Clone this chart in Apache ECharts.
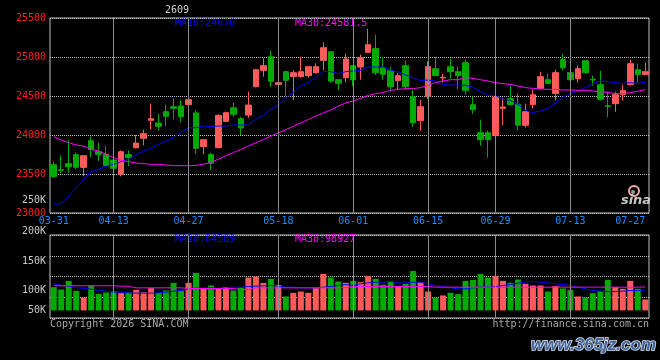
<!DOCTYPE html>
<html>
<head>
<meta charset="utf-8">
<title>2609 日K</title>
<script src="https://cdn.jsdelivr.net/npm/echarts@6/dist/echarts.min.js"></script>
<style>
  html, body { margin: 0; padding: 0; background: #000; }
  #main { width: 660px; height: 360px; }
</style>
</head>
<body>
<div id="main"></div>
<script>
// 交易日
const dates = [
  '03-31', '04-01', '04-02', '04-03', '04-07', '04-08', '04-09', '04-10', '04-13', '04-14',
  '04-15', '04-16', '04-17', '04-20', '04-21', '04-22', '04-23', '04-24', '04-27', '04-28',
  '04-29', '04-30', '05-06', '05-07', '05-08', '05-11', '05-12', '05-13', '05-14', '05-15',
  '05-18', '05-19', '05-20', '05-21', '05-22', '05-25', '05-26', '05-27', '05-28', '05-29',
  '06-01', '06-02', '06-03', '06-04', '06-05', '06-08', '06-09', '06-10', '06-11', '06-12',
  '06-15', '06-16', '06-17', '06-18', '06-22', '06-23', '06-24', '06-25', '06-26', '06-29',
  '06-30', '07-01', '07-02', '07-03', '07-06', '07-07', '07-08', '07-09', '07-10', '07-13',
  '07-14', '07-15', '07-16', '07-17', '07-20', '07-21', '07-22', '07-23', '07-24', '07-27'
]
// 显示的日期刻度
const tickDates = ['03-31', '04-13', '04-27', '05-18', '06-01', '06-15', '06-29', '07-13', '07-27']

const openP = [
  23620, 23555, 23633, 23748, 23585, 23927, 23786, 23752, 23679, 23496,
  23748, 23838, 23957, 24188, 24154, 24299, 24363, 24372, 24389, 24282,
  23850, 23752, 23838, 24175, 24350, 24209, 24256, 24619, 24829, 25004,
  24649, 24812, 24748, 24748, 24761, 24799, 24957, 25068, 24709, 24735,
  24889, 24872, 25060, 25107, 24863, 24825, 24696, 24889, 24491, 24184,
  24496, 24850, 24731, 24876, 24812, 24927, 24389, 24030, 24030, 23991,
  24342, 24466, 24393, 24124, 24389, 24598, 24709, 24534, 24966, 24799,
  24722, 24953, 24713, 24645, 24376, 24402, 24517, 24645, 24837, 24773
]
const closeP = [
  23466, 23548, 23594, 23585, 23735, 23812, 23752, 23611, 23573, 23786,
  23709, 23897, 24017, 24209, 24111, 24239, 24342, 24235, 24453, 23829,
  23940, 23637, 24252, 24286, 24265, 24090, 24384, 24837, 24889, 24688,
  24671, 24701, 24799, 24812, 24876, 24876, 25119, 24692, 24662, 24974,
  24709, 24991, 25158, 24799, 24778, 24619, 24761, 24619, 24158, 24363,
  24876, 24761, 24739, 24812, 24761, 24572, 24325, 23940, 23940, 24483,
  24359, 24389, 24124, 24299, 24517, 24748, 24662, 24799, 24863, 24709,
  24850, 24799, 24705, 24457, 24367, 24517, 24568, 24914, 24773, 24812
]
const lowP = [
  23453, 23508, 23517, 23560, 23470, 23718, 23667, 23603, 23419, 23470,
  23603, 23829, 23867, 24073, 24060, 24111, 24201, 24162, 24316, 23752,
  23752, 23547, 23829, 24167, 24231, 24000, 24222, 24611, 24748, 24619,
  24414, 24500, 24449, 24735, 24735, 24786, 24829, 24671, 24577, 24675,
  24628, 24709, 25060, 24769, 24709, 24555, 24585, 24581, 24107, 24060,
  24461, 24761, 24671, 24722, 24581, 24517, 24273, 23863, 23709, 23932,
  24124, 24376, 24060, 24094, 24342, 24590, 24649, 24444, 24825, 24679,
  24671, 24786, 24632, 24440, 24226, 24299, 24440, 24632, 24671, 24773
]
const highP = [
  23658, 23739, 23936, 23773, 23735, 23979, 23902, 23863, 23709, 23803,
  23803, 24000, 24068, 24402, 24269, 24389, 24466, 24444, 24513, 24320,
  23949, 23773, 24265, 24299, 24414, 24231, 24555, 24846, 24983, 25081,
  24778, 24812, 24829, 24995, 24876, 24919, 25188, 25068, 24709, 25042,
  24889, 25030, 25363, 25286, 25000, 24876, 24799, 24953, 24581, 24453,
  24940, 25000, 24786, 24978, 24876, 24966, 24491, 24196, 24060, 24483,
  24478, 24637, 24538, 24402, 24581, 24812, 24786, 24837, 25042, 24953,
  24889, 24953, 24760, 24825, 24555, 24555, 24645, 24966, 24914, 24927
]
const ma10 = [
  23111, 23120, 23218, 23325, 23432, 23530, 23560, 23598, 23624, 23658,
  23692, 23744, 23795, 23829, 23880, 23923, 23966, 24030, 24094, 24094,
  24115, 24107, 24115, 24115, 24128, 24128, 24128, 24201, 24256, 24329,
  24384, 24478, 24543, 24628, 24671, 24735, 24812, 24812, 24786, 24812,
  24820, 24829, 24872, 24872, 24872, 24829, 24812, 24769, 24735, 24696,
  24705, 24692, 24649, 24641, 24641, 24637, 24607, 24555, 24508, 24508,
  24457, 24444, 24393, 24316, 24286, 24308, 24342, 24402, 24487, 24530,
  24564, 24607, 24658, 24692, 24684, 24671, 24662, 24671, 24662, 24676
]
const ma30 = [
  23979, 23936, 23902, 23872, 23859, 23816, 23795, 23752, 23709, 23675,
  23658, 23641, 23632, 23624, 23624, 23615, 23607, 23607, 23607, 23610,
  23624, 23650, 23690, 23735, 23775, 23815, 23860, 23900, 23942, 23985,
  24028, 24068, 24113, 24155, 24198, 24241, 24283, 24320, 24370, 24411,
  24436, 24470, 24508, 24530, 24547, 24572, 24585, 24594, 24594, 24607,
  24637, 24671, 24692, 24709, 24709, 24735, 24726, 24709, 24692, 24671,
  24658, 24649, 24628, 24607, 24598, 24590, 24585, 24585, 24577, 24577,
  24572, 24572, 24564, 24555, 24547, 24530, 24530, 24543, 24560, 24581.5
]
const volume = [
  98000, 88200, 124600, 82600, 54600, 105000, 70000, 75600, 79800, 72800,
  75600, 86800, 77000, 93800, 74200, 84000, 116200, 84000, 116200, 158200,
  91000, 105000, 93800, 98000, 84000, 96600, 138600, 142800, 116200, 133000,
  107800, 58800, 74200, 79800, 74200, 98000, 154000, 138600, 121800, 116200,
  124600, 119000, 145600, 133000, 107800, 121800, 100800, 112000, 166600, 119000,
  79800, 54600, 63000, 74200, 68600, 124600, 128800, 154000, 138600, 145600,
  124600, 116200, 130200, 112000, 105000, 105000, 79800, 102200, 92400, 86800,
  58800, 54600, 72800, 81200, 128800, 98000, 91000, 124600, 91000, 46200
]
const volMa10 = [
  112000, 106400, 102200, 96600, 92400, 89600, 84000, 81200, 77000, 77000,
  74200, 72800, 72800, 72800, 74200, 77000, 81200, 84000, 91000, 93800,
  95200, 95200, 93800, 93800, 98000, 98000, 100800, 102200, 103600, 105000,
  102200, 98000, 98000, 95200, 95200, 95200, 98000, 100800, 105000, 109200,
  105000, 112000, 116200, 119000, 119000, 121800, 116200, 116200, 119000, 119000,
  112000, 105000, 100800, 95200, 91000, 91000, 95200, 98000, 98000, 100800,
  105000, 109200, 114800, 119000, 121800, 119000, 116200, 112000, 109200, 105000,
  98000, 91000, 84000, 81200, 79800, 79800, 81200, 84000, 84000, 84589
]
const volMa30 = [
  104000, 104000, 104000, 104000, 104000, 104000, 104000, 104000, 104000, 102000,
  102000, 95200, 95200, 95200, 95200, 95200, 95200, 95200, 92400, 92400,
  92400, 92400, 92400, 92400, 92400, 88200, 88200, 95200, 95200, 95200,
  95200, 95200, 95200, 95200, 95200, 95200, 95200, 95200, 95200, 96600,
  100800, 100800, 100800, 100800, 100800, 100800, 100800, 100800, 100800, 100800,
  100800, 98000, 98000, 98000, 98000, 98000, 98000, 98000, 98000, 98000,
  98000, 98000, 98000, 98000, 98000, 98000, 98000, 98000, 98000, 98000,
  98000, 98000, 98000, 98000, 98000, 98000, 98000, 98000, 98000, 98927
]

const MONO = '"DejaVu Sans Mono", "Liberation Mono", monospace'
const RED = '#ff5a5a'
const GREEN = '#00aa00'
const GRID_COLOR = '#c0c0c0'
const last = arr => arr[arr.length - 1]

const chart = echarts.init(document.getElementById('main'))

const kData = dates.map((d, i) => [openP[i], closeP[i], lowP[i], highP[i]])
const volData = volume.map((v, i) => ({
  value: v,
  itemStyle: { color: closeP[i] >= openP[i] ? RED : GREEN }
}))
const dotted = { color: GRID_COLOR, type: [1, 1], width: 1 }
// 竖向网格线：刻度日期（首尾落在边框上，不画）
const innerTicks = tickDates.slice(1, -1)
const vLineData = innerTicks.map(d => ({ xAxis: d }))
const vLineMark = {
  silent: true,
  symbol: ['none', 'none'],
  label: { show: false },
  emphasis: { disabled: true },
  lineStyle: { color: '#8c8c8c', type: 'solid', width: 1 },
  data: vLineData
}
// 成交量刻度文字的上下微调
const volLabelStyle = { 50: 'a', 100: 'b', 150: 'c', 200: 'd' }
const volRich = pad => ({ color: '#c8c8c8', fontFamily: MONO, fontSize: 10, padding: [0, 0, pad, 0] })

const option = {
  backgroundColor: '#000',
  animation: false,
  grid: [
    { left: 50, top: 18, width: 599, height: 195, show: true, borderColor: GRID_COLOR, borderWidth: 1 },
    { left: 50, top: 235, width: 599, height: 83, show: true, borderColor: GRID_COLOR, borderWidth: 1 }
  ],
  xAxis: [
    {
      type: 'category',
      gridIndex: 0,
      data: dates,
      axisLine: { show: false },
      axisTick: { show: false },
      splitLine: { show: false },
      axisLabel: {
        interval: (index, value) => tickDates.indexOf(value) >= 0,
        color: '#1a8cff',
        fontFamily: MONO,
        fontSize: 10,
        margin: 3,
        alignMaxLabel: 'right'
      }
    },
    {
      type: 'category',
      gridIndex: 1,
      data: dates,
      axisLine: { show: false },
      axisTick: { show: false },
      axisLabel: { show: false },
      splitLine: { show: false }
    }
  ],
  yAxis: [
    {
      type: 'value',
      gridIndex: 0,
      min: 23000,
      max: 25500,
      interval: 500,
      axisLine: { show: false },
      axisTick: { show: false },
      axisLabel: {
        color: '#ff2020',
        fontFamily: MONO,
        fontSize: 10,
        margin: 4,
        padding: [0, 0, 4, 0],
        formatter: v => String(v)
      },
      splitLine: { lineStyle: dotted }
    },
    // 成交量柱
    {
      type: 'value',
      gridIndex: 1,
      min: -32000,
      max: 318000,
      show: false
    },
    // 成交量刻度文字
    {
      type: 'value',
      gridIndex: 1,
      position: 'left',
      min: 50000,
      max: 200000,
      interval: 50000,
      axisLine: { show: false },
      axisTick: { show: false },
      splitLine: { show: false },
      axisLabel: {
        color: '#c8c8c8',
        fontFamily: MONO,
        fontSize: 10,
        margin: 4,
        formatter: v => {
          const k = v / 1000
          return '{' + volLabelStyle[k] + '|' + k + 'K}'
        },
        rich: { a: volRich(16), b: volRich(0), c: volRich(2), d: volRich(8) }
      }
    },
    // 成交量网格线
    {
      type: 'value',
      gridIndex: 1,
      position: 'right',
      min: 0,
      max: 4,
      interval: 1,
      axisLine: { show: false },
      axisTick: { show: false },
      axisLabel: { show: false },
      splitLine: { lineStyle: dotted }
    }
  ],
  series: [
    {
      name: 'MA10',
      type: 'line',
      xAxisIndex: 0,
      yAxisIndex: 0,
      data: ma10,
      symbol: 'none',
      z: 4,
      lineStyle: { color: '#0000ff', width: 1 },
      markLine: vLineMark
    },
    {
      name: 'MA30',
      type: 'line',
      xAxisIndex: 0,
      yAxisIndex: 0,
      data: ma30,
      symbol: 'none',
      z: 4,
      lineStyle: { color: '#ff00ff', width: 1 }
    },
    {
      name: 'K',
      type: 'candlestick',
      xAxisIndex: 0,
      yAxisIndex: 0,
      data: kData,
      barWidth: 6,
      z: 3,
      itemStyle: {
        color: RED,
        color0: GREEN,
        borderColor: RED,
        borderColor0: GREEN,
        borderWidth: 1
      }
    },
    {
      name: 'VMA10',
      type: 'line',
      xAxisIndex: 1,
      yAxisIndex: 1,
      data: volMa10,
      symbol: 'none',
      z: 4,
      lineStyle: { color: '#0000ff', width: 1 },
      markLine: vLineMark
    },
    {
      name: 'VMA30',
      type: 'line',
      xAxisIndex: 1,
      yAxisIndex: 1,
      data: volMa30,
      symbol: 'none',
      z: 4,
      lineStyle: { color: '#ff00ff', width: 1 }
    },
    {
      name: 'VOL',
      type: 'bar',
      xAxisIndex: 1,
      yAxisIndex: 1,
      data: volData,
      barWidth: 6,
      z: 3
    }
  ],
  graphic: [
    { type: 'text', x: 177, y: 10, style: { text: '2609', fill: '#d0d0d0', font: '10px ' + MONO, align: 'center', verticalAlign: 'middle' } },
    { type: 'text', x: 175, y: 23, style: { text: 'MA10:' + last(ma10), fill: '#0000ff', font: '10px ' + MONO, verticalAlign: 'middle' } },
    { type: 'text', x: 295, y: 23, style: { text: 'MA30:' + last(ma30), fill: '#ff00ff', font: '10px ' + MONO, verticalAlign: 'middle' } },
    { type: 'text', x: 175, y: 239, style: { text: 'MA10:' + last(volMa10), fill: '#0000ff', font: '10px ' + MONO, verticalAlign: 'middle' } },
    { type: 'text', x: 295, y: 239, style: { text: 'MA30:' + last(volMa30), fill: '#ff00ff', font: '10px ' + MONO, verticalAlign: 'middle' } },
    { type: 'text', x: 46, y: 200, style: { text: '250K', fill: '#c8c8c8', font: '10px ' + MONO, align: 'right', verticalAlign: 'middle' } },
    { type: 'text', x: 50, y: 324, style: { text: 'Copyright 2026 SINA.COM', fill: '#a8a8a8', font: '10px ' + MONO, verticalAlign: 'middle' } },
    { type: 'text', x: 649, y: 324, style: { text: 'http://finance.sina.com.cn', fill: '#a8a8a8', font: '10px ' + MONO, align: 'right', verticalAlign: 'middle' } },
    // sina 标志
    { type: 'circle', shape: { cx: 634, cy: 191, r: 5 }, style: { fill: 'none', stroke: '#f0a8a8', lineWidth: 2 } },
    { type: 'circle', shape: { cx: 633, cy: 192, r: 2 }, style: { fill: '#999' } },
    { type: 'text', x: 636, y: 201, style: { text: 'sina', fill: '#c8c8c8', font: 'italic bold 13px "DejaVu Sans"', align: 'center', verticalAlign: 'middle' } },
    // 水印
    { type: 'text', x: 656, y: 345, style: { text: 'www.365jz.com', fill: '#41659c', stroke: '#dde4ef', lineWidth: 1.5, font: 'italic bold 17px "Liberation Sans"', align: 'right', verticalAlign: 'middle' } }
  ]
}

chart.setOption(option)
</script>
</body>
</html>
